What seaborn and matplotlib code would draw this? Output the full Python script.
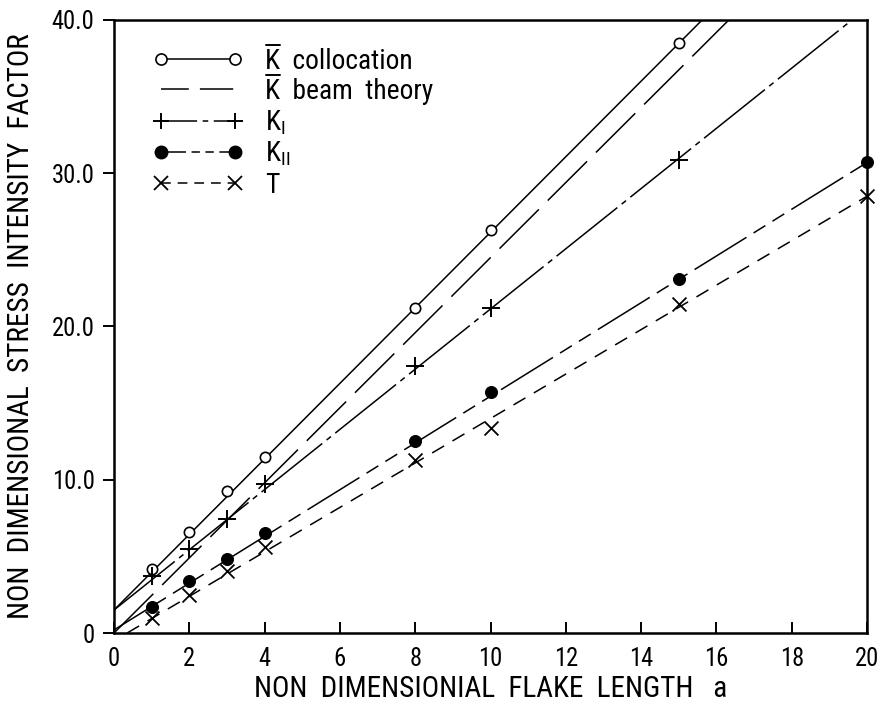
import seaborn as sns
import matplotlib.pyplot as plt
from matplotlib import font_manager as fm
from matplotlib.lines import Line2D

# flake length a for the computed points
a_all = [1, 2, 3, 4, 8, 10, 15, 20]
a_upto15 = [1, 2, 3, 4, 8, 10, 15]

# K bar, collocation (open circles)
k_coll = [4.2, 6.6, 9.25, 11.5, 21.2, 26.3, 38.5]
# K_I (plus)
k_1 = [3.7, 5.5, 7.45, 9.7, 17.4, 21.2, 30.85]
# K_II (filled dots)
k_2 = [1.7, 3.4, 4.8, 6.5, 12.5, 15.7, 23.1, 30.7]
# T (crosses)
t_vals = [0.95, 2.45, 4.05, 5.6, 11.3, 13.4, 21.45, 28.5]

# straight lines through the points, end points
coll_line_a, coll_line_k = [0, 15.62], [1.5, 40]
beam_line_a, beam_line_k = [0, 16.33], [0, 40]
k1_line_a, k1_line_k = [0, 19.6], [1.5, 40]
k2_line_a, k2_line_k = [0, 20], [0.2, 30.7]
t_line_a, t_line_k = [0.35, 20], [0, 28.5]

x_ticks = list(range(0, 21, 2))
y_ticks = [0, 10, 20, 30, 40]
y_ticklabels = ["0", "10.0", "20.0", "30.0", "40.0"]

sns.set_style("ticks")

# narrow lettering if some narrow face is there
names = {f.name for f in fm.fontManager.ttflist}
dv_cond = any(f.name == "DejaVu Sans" and "ondensed" in f.fname
              for f in fm.fontManager.ttflist)
if "Liberation Sans Narrow" in names:
    fam = "Liberation Sans Narrow"
elif "Roboto Condensed" in names:
    fam = "Roboto Condensed"
else:
    fam = "DejaVu Sans"
    if dv_cond:
        plt.rcParams["font.stretch"] = "condensed"
plt.rcParams["font.family"] = [fam, "DejaVu Sans"]
plt.rcParams["mathtext.fontset"] = "custom"
plt.rcParams["mathtext.rm"] = fam
plt.rcParams["mathtext.it"] = fam
plt.rcParams["lines.scale_dashes"] = False
for key in ["text.color", "axes.labelcolor", "xtick.color", "ytick.color", "axes.edgecolor"]:
    plt.rcParams[key] = "black"

# dash patterns in points
ls_solid = "-"
ls_beam = (0, (40, 9))
ls_k1 = (0, (56, 4, 4, 4))
ls_k2 = (0, (44, 6, 10, 6, 10, 6))
ls_t = (0, (10, 7))

fig = plt.figure(figsize=(8.85, 7.13), dpi=100)
ax = fig.add_axes([0.1288, 0.1122, 0.8509, 0.8598])
lw = 1.1

sns.lineplot(x=coll_line_a, y=coll_line_k, ax=ax, color="k", lw=lw, linestyle=ls_solid)
sns.lineplot(x=beam_line_a, y=beam_line_k, ax=ax, color="k", lw=lw, linestyle=ls_beam)
sns.lineplot(x=k1_line_a, y=k1_line_k, ax=ax, color="k", lw=lw, linestyle=ls_k1)
sns.lineplot(x=k2_line_a, y=k2_line_k, ax=ax, color="k", lw=lw, linestyle=ls_k2)
sns.lineplot(x=t_line_a, y=t_line_k, ax=ax, color="k", lw=lw, linestyle=ls_t)

sns.scatterplot(x=a_upto15, y=k_coll, ax=ax, marker="o", s=55, color="white",
                edgecolor="k", linewidth=1.2, zorder=4, clip_on=False)
sns.scatterplot(x=a_upto15, y=k_1, ax=ax, marker="+", s=150, color="k",
                linewidth=1.4, zorder=4, clip_on=False)
sns.scatterplot(x=a_all, y=k_2, ax=ax, marker="o", s=75, color="k",
                edgecolor="k", zorder=4, clip_on=False)
sns.scatterplot(x=a_all, y=t_vals, ax=ax, marker="x", s=100, color="k",
                linewidth=1.3, zorder=4, clip_on=False)

ax.set_xlim(0, 20)
ax.set_ylim(0, 40)
ax.set_xticks(x_ticks)
ax.set_xticklabels([str(v) for v in x_ticks])
ax.set_yticks(y_ticks)
ax.set_yticklabels(y_ticklabels)
for sp in ax.spines.values():
    sp.set_linewidth(1.8)
    sp.set_visible(True)

xlab = ax.set_xlabel("NON  DIMENSIONIAL  FLAKE  LENGTH   a", fontsize=19, labelpad=3)
ylab = ax.set_ylabel("NON  DIMENSIONAL  STRESS  INTENSITY  FACTOR", fontsize=19, labelpad=12)

# scale all lettering so the x label spans about as wide as in the scan
fig.canvas.draw()
w = xlab.get_window_extent(fig.canvas.get_renderer()).width
f = 472.0 / w
xlab.set_fontsize(19 * f)
ylab.set_fontsize(19 * f)
ax.tick_params(axis="x", direction="in", length=8, width=1.4, labelsize=16 * f, pad=10)
ax.tick_params(axis="y", direction="out", length=8, width=1.4, labelsize=16 * f, pad=6)

handles = [
    Line2D([], [], color="k", lw=lw, ls=ls_solid, marker="o", ms=8,
           mfc="white", mec="k", mew=1.2),
    Line2D([], [], color="k", lw=lw, ls=(4, (24, 8))),
    Line2D([], [], color="k", lw=lw, ls=(0, (26, 4, 4, 4)), marker="+", ms=12, mew=1.4),
    Line2D([], [], color="k", lw=lw, ls=(0, (18, 4, 6, 4, 6, 4)), marker="o", ms=9,
           mfc="k", mec="k"),
    Line2D([], [], color="k", lw=lw, ls=(0, (7, 5)), marker="x", ms=10, mew=1.3),
]
labels = [
    "K  collocation",
    "K  beam  theory",
    r"K$_{\mathrm{I}}$",
    r"K$_{\mathrm{II}}$",
    "T",
]
leg = ax.legend(handles, labels, loc="upper left", bbox_to_anchor=(0.052, 0.955),
                frameon=False, numpoints=2, handlelength=3.6 / f, handletextpad=0.8,
                labelspacing=0.12, borderpad=0, borderaxespad=0, fontsize=18 * f)

# bar over the K of the first two entries
fig.canvas.draw()
rend = fig.canvas.get_renderer()
W, H = fig.bbox.width, fig.bbox.height
for txt in leg.get_texts()[:2]:
    fp = txt.get_fontproperties()
    bb = txt.get_window_extent(rend)
    wk, hk, _ = rend.get_text_width_height_descent("K", fp, ismath=False)
    _, _, d_lp = rend.get_text_width_height_descent("lp", fp, ismath=False)
    yb = bb.y0 + d_lp + hk + 4
    fig.add_artist(Line2D([(bb.x0 + 0.5) / W, (bb.x0 + wk - 0.5) / W], [yb / H, yb / H],
                          color="k", lw=1.4, transform=fig.transFigure))

fig.savefig("out.png", dpi=100)
